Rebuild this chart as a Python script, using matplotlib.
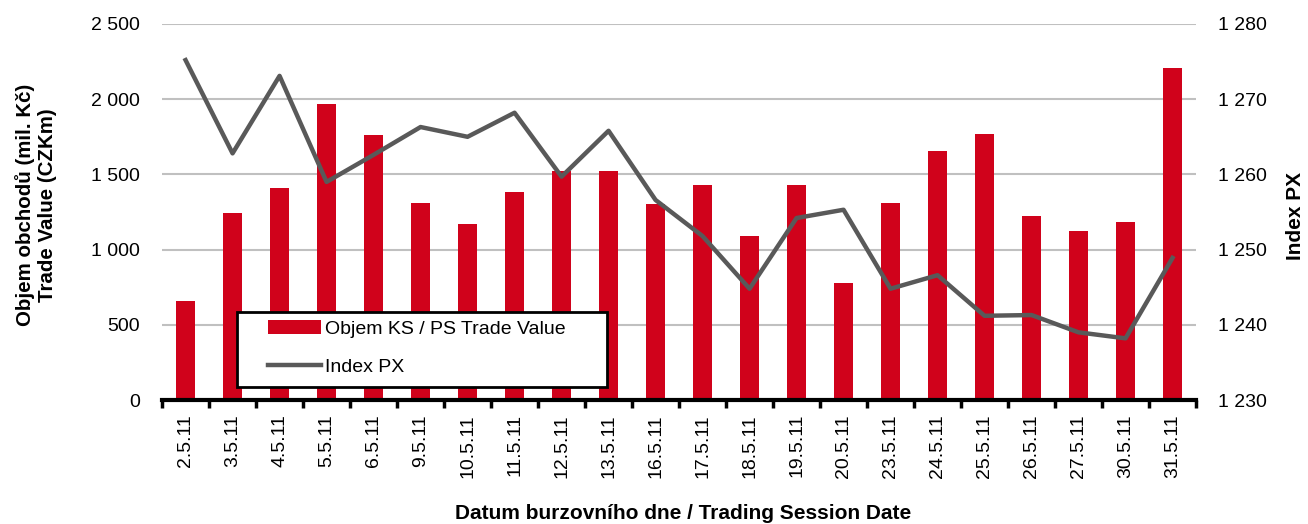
import matplotlib
matplotlib.use('Agg')
import matplotlib.pyplot as plt
import numpy as np
from matplotlib.ticker import FuncFormatter, FixedLocator
from matplotlib.patches import Rectangle

plt.rcParams['font.family'] = ['Liberation Sans', 'DejaVu Sans']

# Data
dates = ["2.5.11", "3.5.11", "4.5.11", "5.5.11", "6.5.11", "9.5.11", "10.5.11",
         "11.5.11", "12.5.11", "13.5.11", "16.5.11", "17.5.11", "18.5.11", "19.5.11",
         "20.5.11", "23.5.11", "24.5.11", "25.5.11", "26.5.11", "27.5.11", "30.5.11",
         "31.5.11"]
trade_value = [660, 1245, 1410, 1968, 1762, 1310, 1170, 1383, 1523, 1523, 1303,
               1430, 1090, 1430, 778, 1310, 1656, 1769, 1223, 1124, 1184, 2207]
index_px = [1275.2, 1262.8, 1273.1, 1259.0, 1262.6, 1266.3, 1265.0, 1268.2, 1259.7,
            1265.8, 1256.6, 1251.8, 1244.8, 1254.2, 1255.3, 1244.8, 1246.6, 1241.2,
            1241.3, 1239.0, 1238.2, 1248.9]

RED = '#d0021b'
GREY = '#595959'
FS = 14


def space_thousands(v, pos):
    return f"{int(round(v)):,}".replace(",", " ")


fig = plt.figure(figsize=(13.08, 5.24), dpi=100)
ax = fig.add_axes([0.1239, 0.2366, 0.7905, 0.7176])
ax2 = ax.twinx()

x = np.arange(len(dates))
bars = ax.bar(x, trade_value, width=0.42, color=RED, label='Objem KS / PS Trade Value', zorder=2)
line, = ax2.plot(x, index_px, color=GREY, linewidth=3.2, label='Index PX', zorder=3)

ax.set_xlim(-0.5, len(dates) - 0.5)
ax.set_ylim(0, 2500)
ax2.set_ylim(1230, 1280)
ax.set_yticks(np.arange(0, 2501, 500))
ax2.set_yticks(np.arange(1230, 1281, 10))
ax.yaxis.set_major_formatter(FuncFormatter(space_thousands))
ax2.yaxis.set_major_formatter(FuncFormatter(space_thousands))

ax.grid(axis='y', color='#c0c0c0', linewidth=1.5, zorder=0)
ax.set_axisbelow(True)

for a in (ax, ax2):
    for s in ('top', 'left', 'right'):
        a.spines[s].set_visible(False)
ax2.spines['bottom'].set_visible(False)
ax.spines['bottom'].set_linewidth(3)
ax.spines['bottom'].set_color('black')

ax.set_xticks(x)
ax.set_xticklabels(dates, rotation=90, fontsize=FS)
ax.xaxis.set_minor_locator(FixedLocator(np.arange(-0.5, len(dates), 1)))
ax.tick_params(axis='x', which='major', length=0, pad=10)
ax.tick_params(axis='x', which='minor', length=6, width=2.5, color='black')
ax.tick_params(axis='y', length=0, pad=16, labelsize=FS)
ax2.tick_params(axis='y', length=0, pad=16, labelsize=FS)

ax.set_xlabel('Datum burzovního dne / Trading Session Date', fontsize=15,
              fontweight='bold')
ax.xaxis.set_label_coords(0.504, -0.276)
ax.set_ylabel('Objem obchodů (mil. Kč)\nTrade Value (CZKm)', fontsize=14.8,
              fontweight='bold')
ax.yaxis.set_label_coords(-0.1015, 0.519)
ax2.set_ylabel('Index PX', fontsize=15, fontweight='bold')
ax2.yaxis.set_label_coords(1.087, 0.489)

# legend box drawn as a patch so the entries can sit inset like the original
box = Rectangle((0.0725, 0.0346), 0.358, 0.2, transform=ax2.transAxes,
                facecolor='white', edgecolor='black', linewidth=2, zorder=9)
ax2.add_patch(box)
leg = ax2.legend([bars, line], ['Objem KS / PS Trade Value', 'Index PX'],
                 loc='upper left', bbox_to_anchor=(0.1025, 0.212),
                 fontsize=FS, frameon=False, handlelength=2.7,
                 handletextpad=0.25, borderaxespad=0, borderpad=0,
                 labelspacing=1.05)
leg.set_zorder(10)

fig.savefig('out.png', dpi=100)
